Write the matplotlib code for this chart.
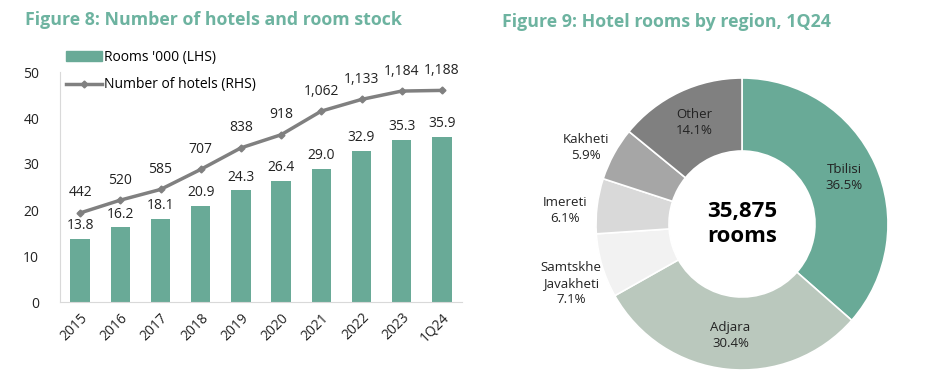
import numpy as np
import matplotlib
matplotlib.use('Agg')
from matplotlib import pyplot as plt
from matplotlib.patches import Patch
from matplotlib.lines import Line2D

### Data
years = ['2015', '2016', '2017', '2018', '2019', '2020', '2021', '2022', '2023', '1Q24']
rooms = [13.8, 16.2, 18.1, 20.9, 24.3, 26.4, 29.0, 32.9, 35.3, 35.9]
hotels = [442, 520, 585, 707, 838, 918, 1062, 1133, 1184, 1188]

regions = ['Tbilisi', 'Adjara', 'Samtskhe\nJavakheti', 'Imereti', 'Kakheti', 'Other']
shares = [36.5, 30.4, 7.1, 6.1, 5.9, 14.1]
total_rooms = '35,875'

# Colours
teal = '#69aa97'
title_col = '#6db3a0'
grey_line = '#808080'
region_cols = ['#69aa97', '#bac8bd', '#f2f2f2', '#d9d9d9', '#a6a6a6', '#808080']
txt = '#222222'

plt.rcParams['font.family'] = ['Open Sans', 'DejaVu Sans']

fig = plt.figure(figsize=(9.4, 3.86), dpi=100)

### Figure 8
fig.text(25/940, 1 - 20/386, 'Figure 8: Number of hotels and room stock',
         fontsize=12.8, fontweight='bold', color=title_col, va='center', ha='left')

ax = fig.add_axes([60/940, 1 - 302/386, 402/940, 230/386])
x = np.arange(len(years))
ax.bar(x, rooms, width=0.48, color=teal, zorder=2)
ax.set_ylim(0, 50)
ax.set_xlim(-0.5, len(years) - 0.5)
ax.set_yticks([0, 10, 20, 30, 40, 50])
ax.set_xticks(x)
ax.set_xticklabels(years, rotation=45, ha='right', rotation_mode='anchor')
ax.tick_params(axis='both', length=0, labelsize=10, colors=txt)
ax.tick_params(axis='y', pad=15)
ax.tick_params(axis='x', pad=6)
for s in ['top', 'right']:
    ax.spines[s].set_visible(False)
for s in ['left', 'bottom']:
    ax.spines[s].set_color('#d9d9d9')
for xi, v in zip(x, rooms):
    ax.annotate('%.1f' % v, (xi, v), xytext=(0, 4), textcoords='offset points',
                ha='center', va='bottom', fontsize=10, color=txt)

ax2 = ax.twinx()
ax2.plot(x, hotels, color=grey_line, lw=2.5, marker='D', markersize=3.5, zorder=3)
ax2.set_ylim(-100, 1300)
ax2.set_yticks([])
for s in ['top', 'right', 'left', 'bottom']:
    ax2.spines[s].set_visible(False)
for xi, v in zip(x, hotels):
    ax2.annotate('{:,}'.format(v), (xi, v), xytext=(0, 9), textcoords='offset points',
                 ha='center', va='bottom', fontsize=10, color=txt)

handles = [Patch(color=teal), Line2D([], [], color=grey_line, lw=2.5, marker='D', markersize=3.5)]
ax2.legend(handles, ["Rooms '000 (LHS)", 'Number of hotels (RHS)'], loc='upper left',
           bbox_to_anchor=(0.0, 1.12), frameon=False, fontsize=10, handlelength=2.6,
           handletextpad=0.2, labelspacing=0.9, borderaxespad=0)

### Figure 9
fig.text(502/940, 1 - 22/386, 'Figure 9: Hotel rooms by region, 1Q24',
         fontsize=12.8, fontweight='bold', color=title_col, va='center', ha='left')

pax = fig.add_axes([596/940, 1 - 370/386, 292/940, 292/386])
wedges, _ = pax.pie(shares, colors=region_cols, startangle=90, counterclock=False,
                    radius=1, wedgeprops=dict(width=0.5, edgecolor='white', linewidth=1.2))
pax.set_xlim(-1, 1)
pax.set_ylim(-1, 1)
pax.set_aspect('equal')

for i, (w, name, sh) in enumerate(zip(wedges, regions, shares)):
    ang = np.deg2rad((w.theta1 + w.theta2) / 2)
    if sh > 10:
        lx, ly = 0.77 * np.cos(ang), 0.77 * np.sin(ang)
    else:
        lx, ly = 1.22 * np.cos(ang), 1.22 * np.sin(ang) - 0.06
    pax.text(lx, ly, '%s\n%.1f%%' % (name, sh),
             ha='center', va='center', fontsize=9.5, color=txt, linespacing=1.3)

pax.text(0, 0, total_rooms + '\nrooms', ha='center', va='center', fontsize=16,
         fontweight='bold', color='black', linespacing=1.25)

plt.savefig('out.png', dpi=100, facecolor='white')
